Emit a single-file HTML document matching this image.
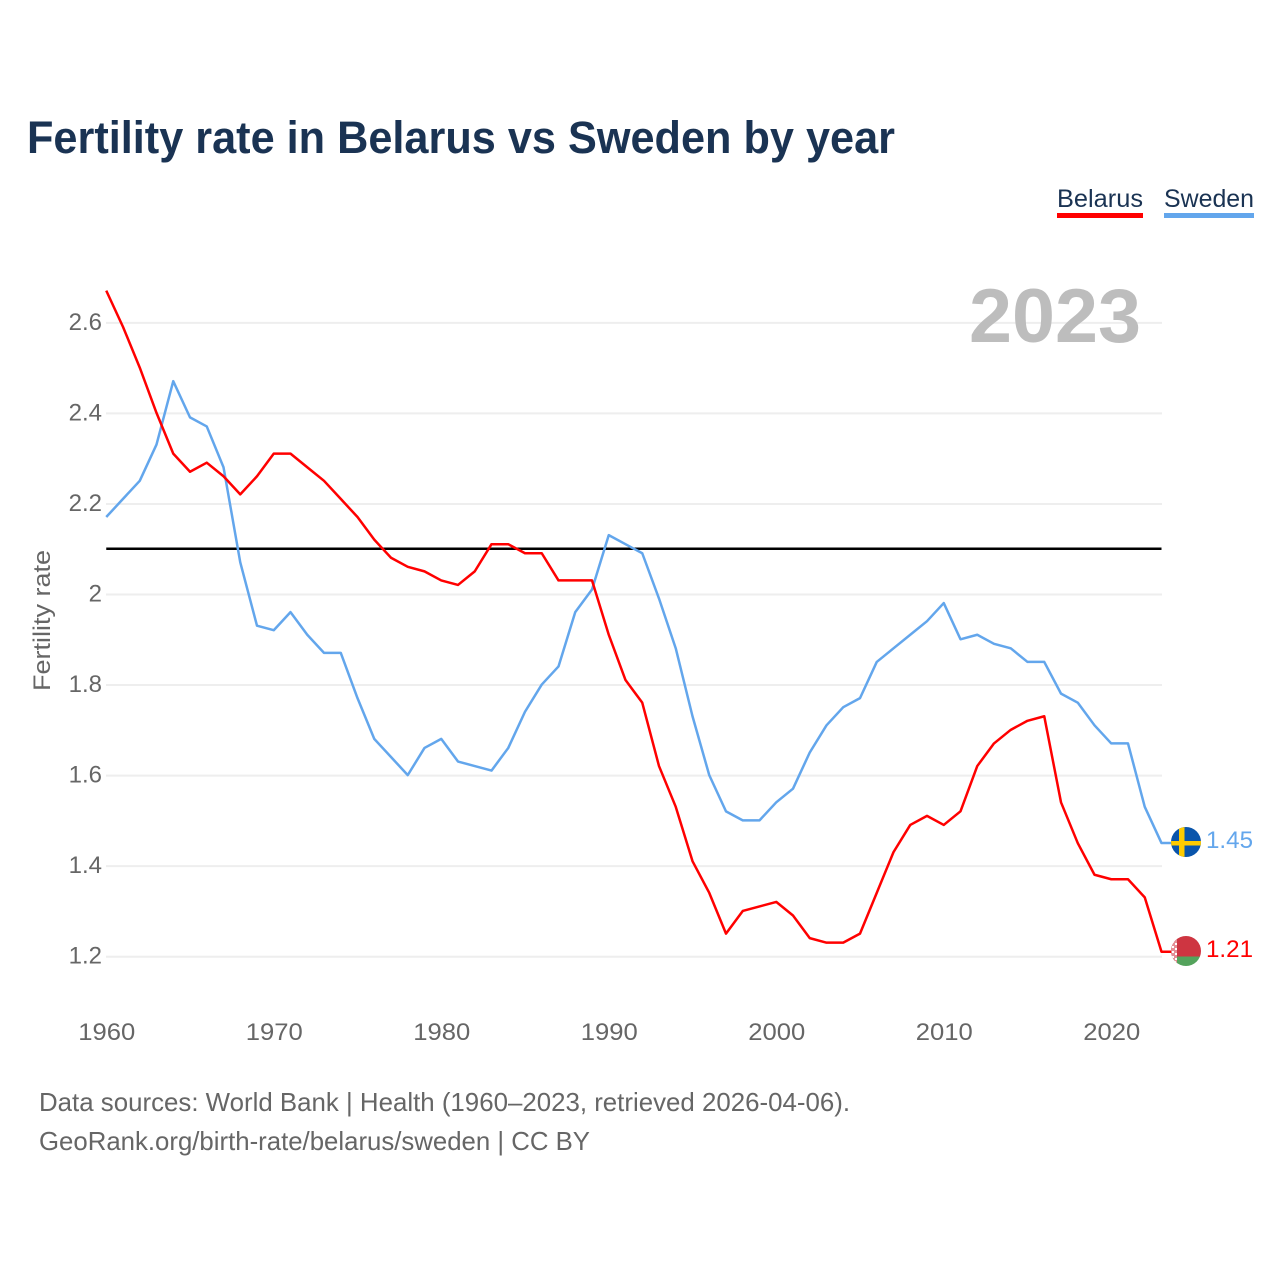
<!DOCTYPE html>
<html lang="en">
<head>
<meta charset="utf-8">
<title>Fertility rate in Belarus vs Sweden by year</title>
<style>
html,body{margin:0;padding:0;background:#fff;width:1280px;height:1280px;overflow:hidden}
svg{display:block}
text{font-family:"Liberation Sans",sans-serif}
</style>
</head>
<body>
<svg id="chart" xmlns="http://www.w3.org/2000/svg" width="1280" height="1280" viewBox="0 0 1280 1280">
  <defs>
    <clipPath id="clip-se"><circle cx="1186" cy="842" r="15"/></clipPath>
    <clipPath id="clip-by"><circle cx="1186" cy="951" r="15"/></clipPath>
  </defs>
  <text x="27" y="153" font-size="45" font-weight="700" fill="#1a3353" textLength="868" lengthAdjust="spacingAndGlyphs">Fertility rate in Belarus vs Sweden by year</text>

  <g>
    <text x="1057" y="207" font-size="25" fill="#1a3353" textLength="86" lengthAdjust="spacingAndGlyphs">Belarus</text>
    <rect x="1057" y="213" width="86" height="5" fill="#ff0000"/>
  </g>
  <g>
    <text x="1164" y="207" font-size="25" fill="#1a3353" textLength="90" lengthAdjust="spacingAndGlyphs">Sweden</text>
    <rect x="1164" y="213" width="90" height="5" fill="#63a6ec"/>
  </g>

  <text transform="translate(50,691) rotate(-90)" font-size="24" fill="#666666" textLength="141" lengthAdjust="spacingAndGlyphs">Fertility rate</text>

  <g id="grid"></g>
  <text x="969" y="342" font-size="76" font-weight="700" fill="#bdbdbd" textLength="172" lengthAdjust="spacingAndGlyphs">2023</text>
  <g id="yticks"></g>
  <g id="xticks"></g>
  <g id="series"></g>

  <g clip-path="url(#clip-se)">
    <rect x="1171" y="827" width="30" height="30" fill="#0a55ab"/>
    <rect x="1179" y="827" width="5.5" height="30" fill="#fecb00"/>
    <rect x="1171" y="841" width="30" height="4.5" fill="#fecb00"/>
  </g>
  <g clip-path="url(#clip-by)">
    <rect x="1171" y="936" width="30" height="20.5" fill="#ce3541"/>
    <rect x="1171" y="956.5" width="30" height="10" fill="#54a35c"/>
    <rect x="1171" y="936" width="6" height="30" fill="#e58f96"/>
    <rect x="1172" y="941" width="2" height="2" fill="#fff"/>
    <rect x="1175" y="943" width="2" height="2" fill="#fff"/>
    <rect x="1172" y="946" width="2" height="2" fill="#fff"/>
    <rect x="1175" y="948" width="2" height="2" fill="#fff"/>
    <rect x="1172" y="951" width="2" height="2" fill="#fff"/>
    <rect x="1175" y="953" width="2" height="2" fill="#fff"/>
    <rect x="1172" y="956" width="2" height="2" fill="#fff"/>
    <rect x="1175" y="958" width="2" height="2" fill="#fff"/>
    <rect x="1174" y="961" width="2" height="2" fill="#fff"/>
  </g>
  <text x="1206" y="848" font-size="24" fill="#63a6ec" textLength="47" lengthAdjust="spacingAndGlyphs">1.45</text>
  <text x="1206" y="957" font-size="24" fill="#ff0000" textLength="47" lengthAdjust="spacingAndGlyphs">1.21</text>

  <text x="39" y="1111" font-size="26" fill="#666666" textLength="811" lengthAdjust="spacingAndGlyphs">Data sources: World Bank | Health (1960–2023, retrieved 2026-04-06).</text>
  <text x="39" y="1150" font-size="26" fill="#666666" textLength="551" lengthAdjust="spacingAndGlyphs">GeoRank.org/birth-rate/belarus/sweden | CC BY</text>
</svg>
<script>
const years = [1960,1961,1962,1963,1964,1965,1966,1967,1968,1969,1970,1971,1972,1973,1974,1975,1976,1977,1978,1979,1980,1981,1982,1983,1984,1985,1986,1987,1988,1989,1990,1991,1992,1993,1994,1995,1996,1997,1998,1999,2000,2001,2002,2003,2004,2005,2006,2007,2008,2009,2010,2011,2012,2013,2014,2015,2016,2017,2018,2019,2020,2021,2022,2023];
const belarus = [2.67,2.59,2.50,2.40,2.31,2.27,2.29,2.26,2.22,2.26,2.31,2.31,2.28,2.25,2.21,2.17,2.12,2.08,2.06,2.05,2.03,2.02,2.05,2.11,2.11,2.09,2.09,2.03,2.03,2.03,1.91,1.81,1.76,1.62,1.53,1.41,1.34,1.25,1.30,1.31,1.32,1.29,1.24,1.23,1.23,1.25,1.34,1.43,1.49,1.51,1.49,1.52,1.62,1.67,1.70,1.72,1.73,1.54,1.45,1.38,1.37,1.37,1.33,1.21];
const sweden = [2.17,2.21,2.25,2.33,2.47,2.39,2.37,2.28,2.07,1.93,1.92,1.96,1.91,1.87,1.87,1.77,1.68,1.64,1.60,1.66,1.68,1.63,1.62,1.61,1.66,1.74,1.80,1.84,1.96,2.01,2.13,2.11,2.09,1.99,1.88,1.73,1.60,1.52,1.50,1.50,1.54,1.57,1.65,1.71,1.75,1.77,1.85,1.88,1.91,1.94,1.98,1.90,1.91,1.89,1.88,1.85,1.85,1.78,1.76,1.71,1.67,1.67,1.53,1.45];
const yTickValues = [1.2,1.4,1.6,1.8,2,2.2,2.4,2.6];
const yTickLabels = ["1.2","1.4","1.6","1.8","2","2.2","2.4","2.6"];
const xTickValues = [1960,1970,1980,1990,2000,2010,2020];
const replacementLevel = [2.1];

const NS = "http://www.w3.org/2000/svg";
function x(year) { return 106.25 + (year - 1960) * 16.75; }
function y(v) { return 594 - (v - 2) * 452.8; }
function make(tag, attrs, parent) {
  const el = document.createElementNS(NS, tag);
  for (const k in attrs) el.setAttribute(k, attrs[k]);
  parent.appendChild(el);
  return el;
}
const gridG = document.getElementById("grid");
const yG = document.getElementById("yticks");
const xG = document.getElementById("xticks");
const seriesG = document.getElementById("series");

yTickValues.forEach(function (v, i) {
  const line = make("line", {x1: 106, x2: 1162, y1: y(v) + 0.5, y2: y(v) + 0.5, stroke: "#eeeeee", "stroke-width": 2}, gridG);
  
  
  const t = make("text", {x: 102, y: y(v) + 7.5, "text-anchor": "end", "font-size": 24, fill: "#666666"}, yG);
  
  
  t.textContent = yTickLabels[i];
});

xTickValues.forEach(function (yr) {
  const t = make("text", {x: x(yr) + 0.5, y: 1040, "text-anchor": "middle", "font-size": 24, fill: "#666666", textLength: 57, lengthAdjust: "spacingAndGlyphs"}, xG);
  
  
  t.textContent = yr;
});

function pathFor(values) {
  const last = values[values.length - 1];
  return values.map(function (v, i) { return (i ? "L" : "M") + x(years[i]).toFixed(2) + " " + y(v).toFixed(2); }).join(" ") + " H1172";
}

const refLine = make("line", {x1: x(years[0]), x2: x(years[years.length - 1]), y1: y(replacementLevel[0]), y2: y(replacementLevel[0]), stroke: "#000000", "stroke-width": 2.5}, seriesG);



const swedenLine = make("path", {d: pathFor(sweden), fill: "none", stroke: "#63a6ec", "stroke-width": 2.5, "stroke-linejoin": "round"}, seriesG);



const belarusLine = make("path", {d: pathFor(belarus), fill: "none", stroke: "#ff0000", "stroke-width": 2.5, "stroke-linejoin": "round"}, seriesG);


</script>
</body>
</html>
